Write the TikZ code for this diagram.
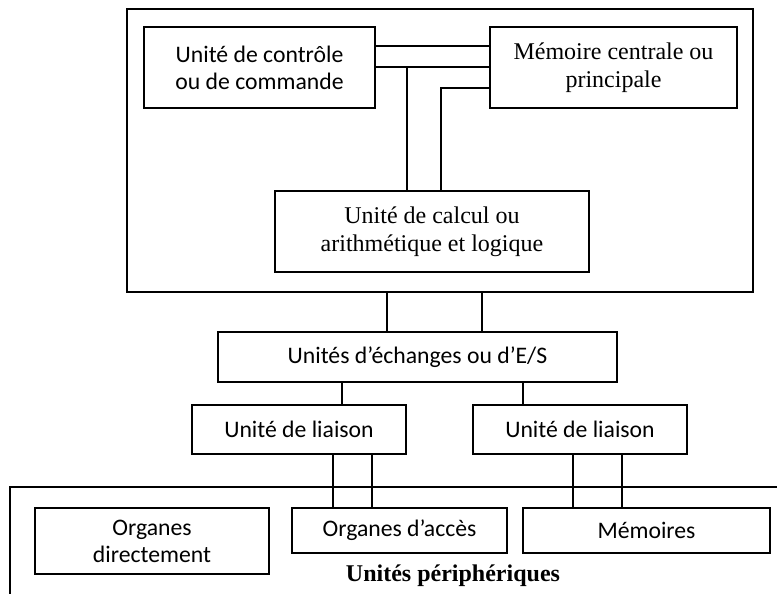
\documentclass[tikz,border=0pt]{standalone}
\usepackage{fontspec}
\setmainfont{Liberation Serif}
\newfontfamily\carlitofont{Carlito}
\begin{document}
\begin{tikzpicture}[x=1pt,y=-1pt]
\tikzset{
  box/.style={draw, line width=1.8pt, inner sep=0pt, align=center},
  sansbox/.style={box, font=\carlitofont\fontsize{23.7}{27}\selectfont},
  serifbox/.style={box, font=\fontsize{24}{28}\selectfont},
  wire/.style={line width=1.8pt}
}
\useasboundingbox (0,0) rectangle (777,594);
% central unit container
\node[box, minimum width=626pt, minimum height=283pt] (cpu) at (440,150.5) {};
\node[sansbox, minimum width=231pt, minimum height=81pt] (ctrl) at (259.5,67.5) {Unité de contrôle\\ou de commande};
\node[serifbox, minimum width=247pt, minimum height=81pt] (mem) at (613.5,67.5) {Mémoire centrale ou\\principale};
\node[serifbox, minimum width=314pt, minimum height=81pt] (calc) at (432,231.5) {Unité de calcul ou\\arithmétique et logique};
% connectors inside
\draw[wire] ([yshift=-20pt]ctrl.north east) -- ([yshift=-20pt]mem.north west);
\draw[wire] ([yshift=-41pt]ctrl.north east) -- ([yshift=-41pt]mem.north west);
\coordinate (j1) at (407,68);
\draw[wire] (j1) -- (j1 |- calc.north);
\coordinate (j2) at (441,88);
\draw[wire] (mem.west |- j2) -- (j2) -- (j2 |- calc.north);
% exchange units
\node[sansbox, minimum width=399pt, minimum height=50pt] (es) at (417.5,357) {Unités d’échanges ou d’E/S};
\draw[wire] ([xshift=-30.5pt]es.north) -- ([xshift=-30.5pt]es.north |- cpu.south);
\draw[wire] ([xshift=64.5pt]es.north) -- ([xshift=64.5pt]es.north |- cpu.south);
\node[sansbox, minimum width=214pt, minimum height=49pt] (li1) at (299,429.5) {Unité de liaison};
\node[sansbox, minimum width=214pt, minimum height=49pt] (li2) at (580,429.5) {Unité de liaison};
\draw[wire] ([xshift=43pt]li1.north) -- ([xshift=43pt]li1.north |- es.south);
\draw[wire] ([xshift=-57pt]li2.north) -- ([xshift=-57pt]li2.north |- es.south);
% peripheral container
\coordinate (pbl) at (10,594);
\coordinate (ptl) at (10,487);
\coordinate (ptr) at (777,487);
\draw[wire] (pbl) -- (ptl) -- (ptr);
\node[sansbox, minimum width=234pt, minimum height=66pt] (orgd) at (152,541) {Organes\\directement};
\node[sansbox, minimum width=215pt, minimum height=45pt] (orga) at (399.5,530.5) {Organes d’accès};
\node[sansbox, minimum width=247pt, minimum height=45pt] (memo) at (646.5,530.5) {Mémoires};
\draw[wire] ([xshift=-66.5pt]orga.north) -- ([xshift=-66.5pt]orga.north |- li1.south);
\draw[wire] ([xshift=-27.5pt]orga.north) -- ([xshift=-27.5pt]orga.north |- li1.south);
\draw[wire] ([xshift=-73.5pt]memo.north) -- ([xshift=-73.5pt]memo.north |- li2.south);
\draw[wire] ([xshift=-24.5pt]memo.north) -- ([xshift=-24.5pt]memo.north |- li2.south);
\node[font=\bfseries\fontsize{24}{28}\selectfont, inner sep=0pt] (periph) at (453,576) {Unités périphériques};
\end{tikzpicture}
\end{document}
